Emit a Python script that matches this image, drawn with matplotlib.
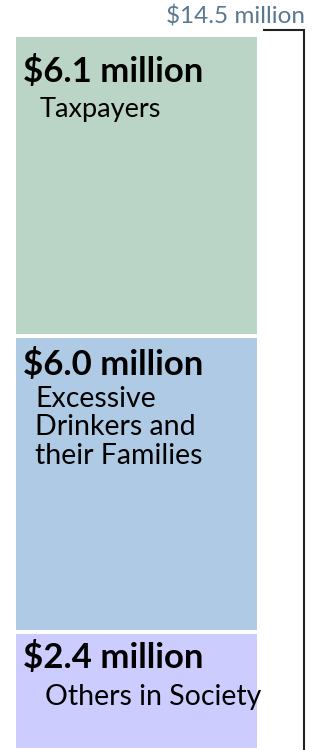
import matplotlib.pyplot as plt
import numpy as np

# cost of excessive drinking, by who pays (millions of dollars), bottom to top
groups = ['Others in Society', 'Excessive\nDrinkers and\ntheir Families', 'Taxpayers']
values = [2.4, 6.0, 6.1]
amounts = ['$2.4 million', '$6.0 million', '$6.1 million']
colors = ['#ccccff', '#aecae4', '#bad5c5']
total_label = '$14.5 million'

plt.rcParams['font.family'] = ['Lato', 'DejaVu Sans']

fig = plt.figure(figsize=(3.23, 7.5), dpi=100)
ax = fig.add_axes([0, 0, 1, 1])
ax.set_xlim(0, 323)
ax.set_ylim(0, 15.2)
ax.axis('off')

bottoms = np.concatenate([[0], np.cumsum(values)[:-1]])
total = sum(values)

# stacked segments, white edges give the gaps between them
ax.bar(14, values, width=245, bottom=bottoms, align='edge',
       color=colors, edgecolor='white', linewidth=2.9)

# amount and group name in the top-left corner of each segment
amt_dy = [-9, -12, -20]
name_dx = [31, 21, 26]
name_dy = [-52, -50, -62]
name_size = [20.5, 20.5, 19.5]
for b, v, amt, name, dx, dy, fs, ady in zip(bottoms, values, amounts, groups,
                                           name_dx, name_dy, name_size, amt_dy):
    top = b + v
    ax.annotate(amt, (14, top), xytext=(9, ady), textcoords='offset pixels',
                fontsize=25, fontweight='bold', va='top', ha='left')
    ax.annotate(name, (14, top), xytext=(dx, dy), textcoords='offset pixels',
                fontsize=fs, va='top', ha='left', linespacing=1.12)

# bracket for the total
yb = total + 0.09
ax.plot([264, 304, 304], [yb, yb, -1], color='#222222', lw=1.5,
        solid_joinstyle='miter')
ax.text(305, total + 0.36, total_label, ha='right', va='center',
        fontsize=17.5, color='#5a7890')

fig.savefig('out.png', dpi=100)
